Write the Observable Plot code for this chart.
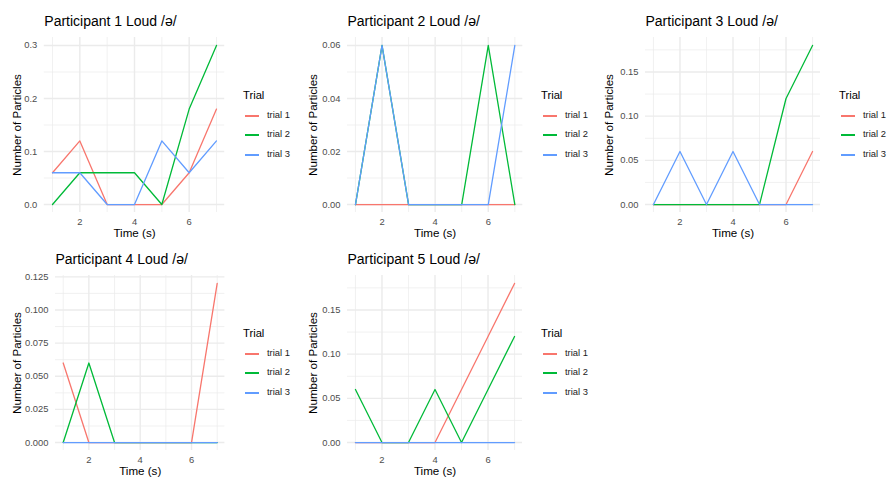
<!DOCTYPE html>
<html><head><meta charset="utf-8">
<script src="https://cdn.jsdelivr.net/npm/d3@7"></script>
<script src="https://cdn.jsdelivr.net/npm/@observablehq/plot@0.6"></script>
<style>
body{margin:0;background:#fff;font-family:"Liberation Sans",Arial,sans-serif;}
#chart{position:relative;width:889px;height:481px;overflow:hidden;background:#fff;}
.panel{position:absolute;}
.legend{position:absolute;}
.ltitle{position:absolute;left:0;font-size:11.2px;line-height:14px;color:#000;white-space:nowrap;}
.litem{position:absolute;left:0;height:14px;white-space:nowrap;font-size:9.4px;line-height:14px;color:#1a1a1a;}
.lkey{position:absolute;left:2px;top:7px;width:14px;height:1.5px;}
.llab{position:absolute;left:24px;top:0;}
</style></head>
<body><div id="chart"></div>
<script>
// ---- data ----
const times = [1, 2, 3, 4, 5, 6, 7];
const trials = ["trial 1", "trial 2", "trial 3"];
const colors = ["#F8766D", "#00BA38", "#619CFF"];
const titles = ["Participant 1 Loud /ə/", "Participant 2 Loud /ə/", "Participant 3 Loud /ə/", "Participant 4 Loud /ə/", "Participant 5 Loud /ə/"];
const xTitle = "Time (s)";
const yTitle = "Number of Particles";
const legendTitle = "Trial";
const xTicks = [2, 4, 6];
const xTickLabels = ["2", "4", "6"];
const xMinor = [1, 3, 5, 7];

// values per participant: one array per trial (trial 1, trial 2, trial 3)
const p1 = [[0.06, 0.12, 0, 0, 0, 0.06, 0.18], [0, 0.06, 0.06, 0.06, 0, 0.18, 0.30], [0.06, 0.06, 0, 0, 0.12, 0.06, 0.12]];
const p2 = [[0, 0, 0, 0, 0, 0, 0], [0, 0.06, 0, 0, 0, 0.06, 0], [0, 0.06, 0, 0, 0, 0, 0.06]];
const p3 = [[0, 0, 0, 0, 0, 0, 0.06], [0, 0, 0, 0, 0, 0.12, 0.18], [0, 0.06, 0, 0.06, 0, 0, 0]];
const p4 = [[0.06, 0, 0, 0, 0, 0, 0.12], [0, 0.06, 0, 0, 0, 0, 0], [0, 0, 0, 0, 0, 0, 0]];
const p5 = [[0, 0, 0, 0, 0.06, 0.12, 0.18], [0.06, 0, 0, 0.06, 0, 0.06, 0.12], [0, 0, 0, 0, 0, 0, 0]];

const yTicks1 = [0, 0.1, 0.2, 0.3], yLabels1 = ["0.0", "0.1", "0.2", "0.3"], yMinor1 = [0.05, 0.15, 0.25];
const yTicks2 = [0, 0.02, 0.04, 0.06], yLabels2 = ["0.00", "0.02", "0.04", "0.06"], yMinor2 = [0.01, 0.03, 0.05];
const yTicks3 = [0, 0.05, 0.10, 0.15], yLabels3 = ["0.00", "0.05", "0.10", "0.15"], yMinor3 = [0.025, 0.075, 0.125, 0.175];
const yTicks4 = [0, 0.025, 0.05, 0.075, 0.1, 0.125], yLabels4 = ["0.000", "0.025", "0.050", "0.075", "0.100", "0.125"], yMinor4 = [0.0125, 0.0375, 0.0625, 0.0875, 0.1125];
const yTicks5 = [0, 0.05, 0.10, 0.15], yLabels5 = ["0.00", "0.05", "0.10", "0.15"], yMinor5 = [0.025, 0.075, 0.125, 0.175];

// ---- layout ----
const panels = [
  {values: p1, yTicks: yTicks1, yLabels: yLabels1, yMinor: yMinor1, X0: 0,   Y0: 0,   W: 296, left: 43.8, right: 224.2},
  {values: p2, yTicks: yTicks2, yLabels: yLabels2, yMinor: yMinor2, X0: 296, Y0: 0,   W: 296, left: 347,  right: 522.3},
  {values: p3, yTicks: yTicks3, yLabels: yLabels3, yMinor: yMinor3, X0: 592, Y0: 0,   W: 297, left: 645,  right: 820},
  {values: p4, yTicks: yTicks4, yLabels: yLabels4, yMinor: yMinor4, X0: 0,   Y0: 238, W: 296, left: 55,   right: 224.4},
  {values: p5, yTicks: yTicks5, yLabels: yLabels5, yMinor: yMinor5, X0: 296, Y0: 238, W: 296, left: 347,  right: 522}
];
const H = 243, plotTop = 37, plotBottom = 212;
const font = "'Liberation Sans', Arial, sans-serif";
const chart = document.getElementById("chart");

panels.forEach((p, k) => {
  const rows = [];
  p.values.forEach((arr, j) => times.forEach((t, i) => rows.push({time: t, value: arr[i], trial: trials[j]})));
  const ymax = d3.max(rows, d => d.value);
  const pad = ymax * 0.05;
  const xpad = (d3.max(times) - d3.min(times)) * 0.05;
  const labelMap = new Map(p.yTicks.map((t, i) => [t, p.yLabels[i]]));
  const xLabelMap = new Map(xTicks.map((t, i) => [t, xTickLabels[i]]));
  const mL = p.left - p.X0;
  const svg = Plot.plot({
    width: p.W, height: H,
    marginLeft: mL, marginRight: p.W - (p.right - p.X0),
    marginTop: plotTop, marginBottom: H - plotBottom,
    style: {fontFamily: font, fontSize: "9.4px", color: "#4D4D4D", background: "transparent", overflow: "visible"},
    x: {domain: [d3.min(times) - xpad, d3.max(times) + xpad]},
    y: {domain: [-pad, ymax + pad]},
    color: {domain: trials, range: colors},
    marks: [
      Plot.ruleX(xMinor, {stroke: "#EBEBEB", strokeWidth: 0.7}),
      Plot.ruleY(p.yMinor, {stroke: "#EBEBEB", strokeWidth: 0.7}),
      Plot.ruleX(xTicks, {stroke: "#EBEBEB", strokeWidth: 1.4}),
      Plot.ruleY(p.yTicks, {stroke: "#EBEBEB", strokeWidth: 1.4}),
      Plot.axisX({ticks: xTicks, tickFormat: d => xLabelMap.get(d), tickSize: 0, tickPadding: 6, label: null, fill: "#4D4D4D"}),
      Plot.axisY({ticks: p.yTicks, tickFormat: d => labelMap.get(d), tickSize: 0, tickPadding: 7, label: null, fill: "#4D4D4D"}),
      Plot.line(rows, {x: "time", y: "value", stroke: "trial", z: "trial", strokeWidth: 1.3}),
      Plot.text([titles[k]], {text: d => d, frameAnchor: "top-left", textAnchor: "start", lineAnchor: "middle", dy: -16, fontSize: 14, fill: "#000"}),
      Plot.text([xTitle], {text: d => d, frameAnchor: "bottom", textAnchor: "middle", lineAnchor: "middle", dy: 21, fontSize: 11.6, fill: "#000"}),
      Plot.text([yTitle], {text: d => d, frameAnchor: "left", textAnchor: "middle", lineAnchor: "middle", rotate: -90, dx: -(mL - 16.5), fontSize: 11.6, fill: "#000"})
    ]
  });
  const wrap = document.createElement("div");
  wrap.className = "panel";
  wrap.style.left = p.X0 + "px";
  wrap.style.top = p.Y0 + "px";
  wrap.appendChild(svg);
  chart.appendChild(wrap);

  // legend
  const lg = document.createElement("div");
  lg.className = "legend";
  lg.style.left = Math.round(p.right + 19) + "px";
  lg.style.top = (p.Y0 + 88) + "px";
  const lt = document.createElement("div");
  lt.className = "ltitle";
  lt.style.top = "0px";
  lt.textContent = legendTitle;
  lg.appendChild(lt);
  trials.forEach((t, j) => {
    const it = document.createElement("div");
    it.className = "litem";
    it.style.top = Math.round(20 + j * 19.3) + "px";
    const key = document.createElement("span");
    key.className = "lkey";
    key.style.background = colors[j];
    const lab = document.createElement("span");
    lab.className = "llab";
    lab.textContent = t;
    it.appendChild(key); it.appendChild(lab);
    lg.appendChild(it);
  });
  chart.appendChild(lg);
});
</script>
</body></html>
